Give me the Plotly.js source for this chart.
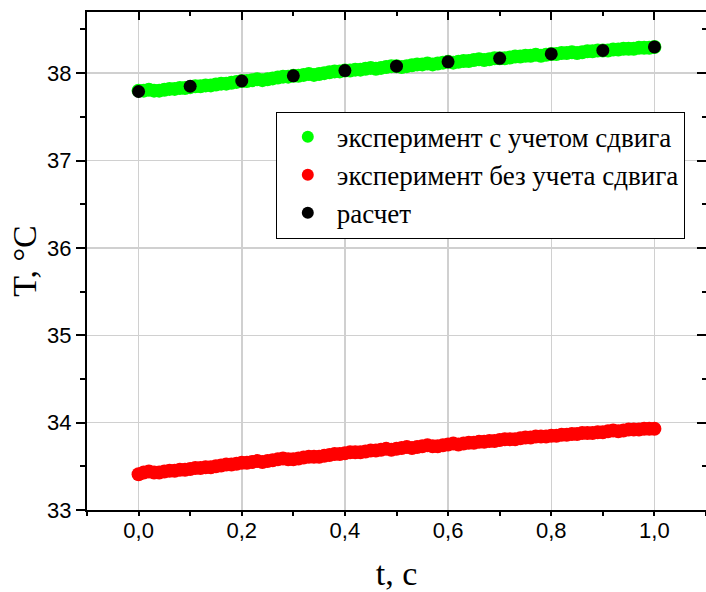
<!DOCTYPE html>
<html>
<head>
<meta charset="utf-8">
<script src="https://cdn.plot.ly/plotly-3.0.1.min.js"></script>
<style>html,body{margin:0;padding:0;background:#fff;}#chart{width:706px;height:592px;}</style>
</head>
<body>
<div id="chart"></div>
<script>
const tExp = [0.00,0.01,0.02,0.03,0.04,0.05,0.06,0.07,0.08,0.09,
0.10,0.11,0.12,0.13,0.14,0.15,0.16,0.17,0.18,0.19,
0.20,0.21,0.22,0.23,0.24,0.25,0.26,0.27,0.28,0.29,
0.30,0.31,0.32,0.33,0.34,0.35,0.36,0.37,0.38,0.39,
0.40,0.41,0.42,0.43,0.44,0.45,0.46,0.47,0.48,0.49,
0.50,0.51,0.52,0.53,0.54,0.55,0.56,0.57,0.58,0.59,
0.60,0.61,0.62,0.63,0.64,0.65,0.66,0.67,0.68,0.69,
0.70,0.71,0.72,0.73,0.74,0.75,0.76,0.77,0.78,0.79,
0.80,0.81,0.82,0.83,0.84,0.85,0.86,0.87,0.88,0.89,
0.90,0.91,0.92,0.93,0.94,0.95,0.96,0.97,0.98,0.99,1.00];

const tempWithShift = [37.80,37.80,37.81,37.80,37.80,37.81,37.82,37.82,37.83,37.83,
37.84,37.85,37.85,37.86,37.86,37.87,37.88,37.88,37.89,37.90,
37.91,37.91,37.92,37.93,37.92,37.93,37.94,37.95,37.96,37.96,
37.97,37.97,37.98,37.99,37.98,37.99,38.00,38.01,38.02,38.02,
38.03,38.03,38.04,38.04,38.05,38.06,38.05,38.06,38.07,38.08,
38.08,38.07,38.08,38.09,38.10,38.10,38.11,38.10,38.11,38.12,
38.13,38.12,38.13,38.14,38.14,38.15,38.16,38.15,38.16,38.17,
38.17,38.17,38.18,38.19,38.19,38.20,38.20,38.21,38.20,38.21,
38.22,38.22,38.23,38.23,38.24,38.23,38.24,38.25,38.25,38.26,
38.26,38.26,38.27,38.27,38.28,38.28,38.28,38.29,38.29,38.29,38.30];

const tempNoShift = [33.41,33.43,33.44,33.43,33.43,33.44,33.45,33.45,33.46,33.46,
33.47,33.48,33.48,33.49,33.49,33.50,33.51,33.52,33.52,33.53,
33.54,33.54,33.55,33.56,33.55,33.56,33.57,33.58,33.59,33.58,
33.58,33.59,33.60,33.61,33.61,33.61,33.62,33.63,33.64,33.64,
33.65,33.66,33.66,33.66,33.67,33.68,33.68,33.69,33.70,33.69,
33.70,33.71,33.72,33.71,33.72,33.73,33.74,33.73,33.73,33.74,
33.75,33.76,33.75,33.76,33.77,33.77,33.78,33.78,33.79,33.79,
33.80,33.81,33.81,33.81,33.82,33.83,33.83,33.84,33.84,33.84,
33.85,33.85,33.86,33.86,33.87,33.87,33.88,33.88,33.88,33.89,
33.89,33.90,33.91,33.90,33.91,33.92,33.92,33.92,33.93,33.93,33.93];

const tCalc = [0.0,0.1,0.2,0.3,0.4,0.5,0.6,0.7,0.8,0.9,1.0];
const tempCalc = [37.79,37.85,37.91,37.97,38.03,38.08,38.13,38.17,38.22,38.26,38.30];

const seriesNames = ['эксперимент с учетом сдвига','эксперимент без учета сдвига','расчет'];

const tickFont = {family:'Arial, "Liberation Sans", sans-serif', size:22, color:'#000'};
const serif = 'Times New Roman, "Liberation Serif", serif';

const data = [
  {x:tExp, y:tempWithShift, type:'scatter', mode:'markers', name:seriesNames[0],
   marker:{color:'#00ff00', size:14, line:{width:0}}},
  {x:tExp, y:tempNoShift, type:'scatter', mode:'markers', name:seriesNames[1],
   marker:{color:'#ff0000', size:14, line:{width:0}}},
  {x:tCalc, y:tempCalc, type:'scatter', mode:'markers', name:seriesNames[2],
   marker:{color:'#000000', size:13, line:{width:0}}},
  {x:[], y:[], xaxis:'x2', yaxis:'y2', type:'scatter', mode:'markers', showlegend:false, hoverinfo:'skip'},
  {x:[], y:[], xaxis:'x3', yaxis:'y', type:'scatter', mode:'markers', showlegend:false, hoverinfo:'skip'}
];

const layout = {
  width:706, height:592,
  margin:{l:87, r:0, t:12, b:82},
  paper_bgcolor:'#fff', plot_bgcolor:'#fff',
  separators:', ',
  showlegend:true,
  xaxis:{
    range:[-0.1,1.1], tick0:0, dtick:0.2, tickformat:'.1f',
    ticks:'',
    showline:true, linewidth:2, linecolor:'#000',
    showgrid:true, gridcolor:'#d0d0d0', gridwidth:1.5, zeroline:false,
    tickfont:tickFont,
    title:{text:'t, c', font:{family:serif, size:34, color:'#000'}, standoff:22}
  },
  xaxis3:{
    overlaying:'x', side:'bottom', anchor:'y', matches:'x',
    range:[-0.1,1.1], tick0:0, dtick:0.2,
    ticks:'outside', ticklen:5, tickwidth:2, tickcolor:'#000',
    minor:{dtick:0.1, tick0:0, ticks:'outside', ticklen:5, tickwidth:2, tickcolor:'#000'},
    showline:false, showgrid:false, zeroline:false, showticklabels:false
  },
  yaxis:{
    range:[33,38.7], tick0:33, dtick:1,
    ticks:'outside', ticklen:9, tickwidth:2, tickcolor:'#000',
    minor:{dtick:0.5, tick0:33, ticks:'outside', ticklen:5, tickwidth:2, tickcolor:'#000', showgrid:false},
    showline:true, linewidth:2, linecolor:'#000',
    showgrid:true, gridcolor:'#d0d0d0', gridwidth:1.5, zeroline:false,
    tickfont:tickFont,
    title:{text:'T, °C', font:{family:serif, size:34, color:'#000'}, standoff:0}
  },
  xaxis2:{
    overlaying:'x', side:'top', anchor:'y2', matches:'x',
    range:[-0.1,1.1], tick0:0, dtick:0.2,
    ticks:'inside', ticklen:8, tickwidth:2, tickcolor:'#000',
    minor:{dtick:0.1, tick0:0, ticks:'inside', ticklen:4, tickwidth:2, tickcolor:'#000'},
    showline:true, linewidth:2, linecolor:'#000',
    showgrid:false, zeroline:false, showticklabels:false
  },
  yaxis2:{
    overlaying:'y', side:'right', anchor:'x2', matches:'y',
    range:[33,38.7], tick0:33, dtick:1,
    ticks:'inside', ticklen:9, tickwidth:2, tickcolor:'#000',
    minor:{dtick:0.5, tick0:33, ticks:'inside', ticklen:4, tickwidth:2, tickcolor:'#000'},
    showline:false, showgrid:false, zeroline:false, showticklabels:false
  },
  legend:{
    x:0.305, y:0.80, xanchor:'left', yanchor:'top',
    bgcolor:'#fff', bordercolor:'#000', borderwidth:1,
    font:{family:serif, size:27, color:'#000'},
    itemsizing:'constant', tracegroupgap:0, itemwidth:48, indentation:2
  }
};

Plotly.newPlot('chart', data, layout, {staticPlot:true, displayModeBar:false});
</script>
</body>
</html>
